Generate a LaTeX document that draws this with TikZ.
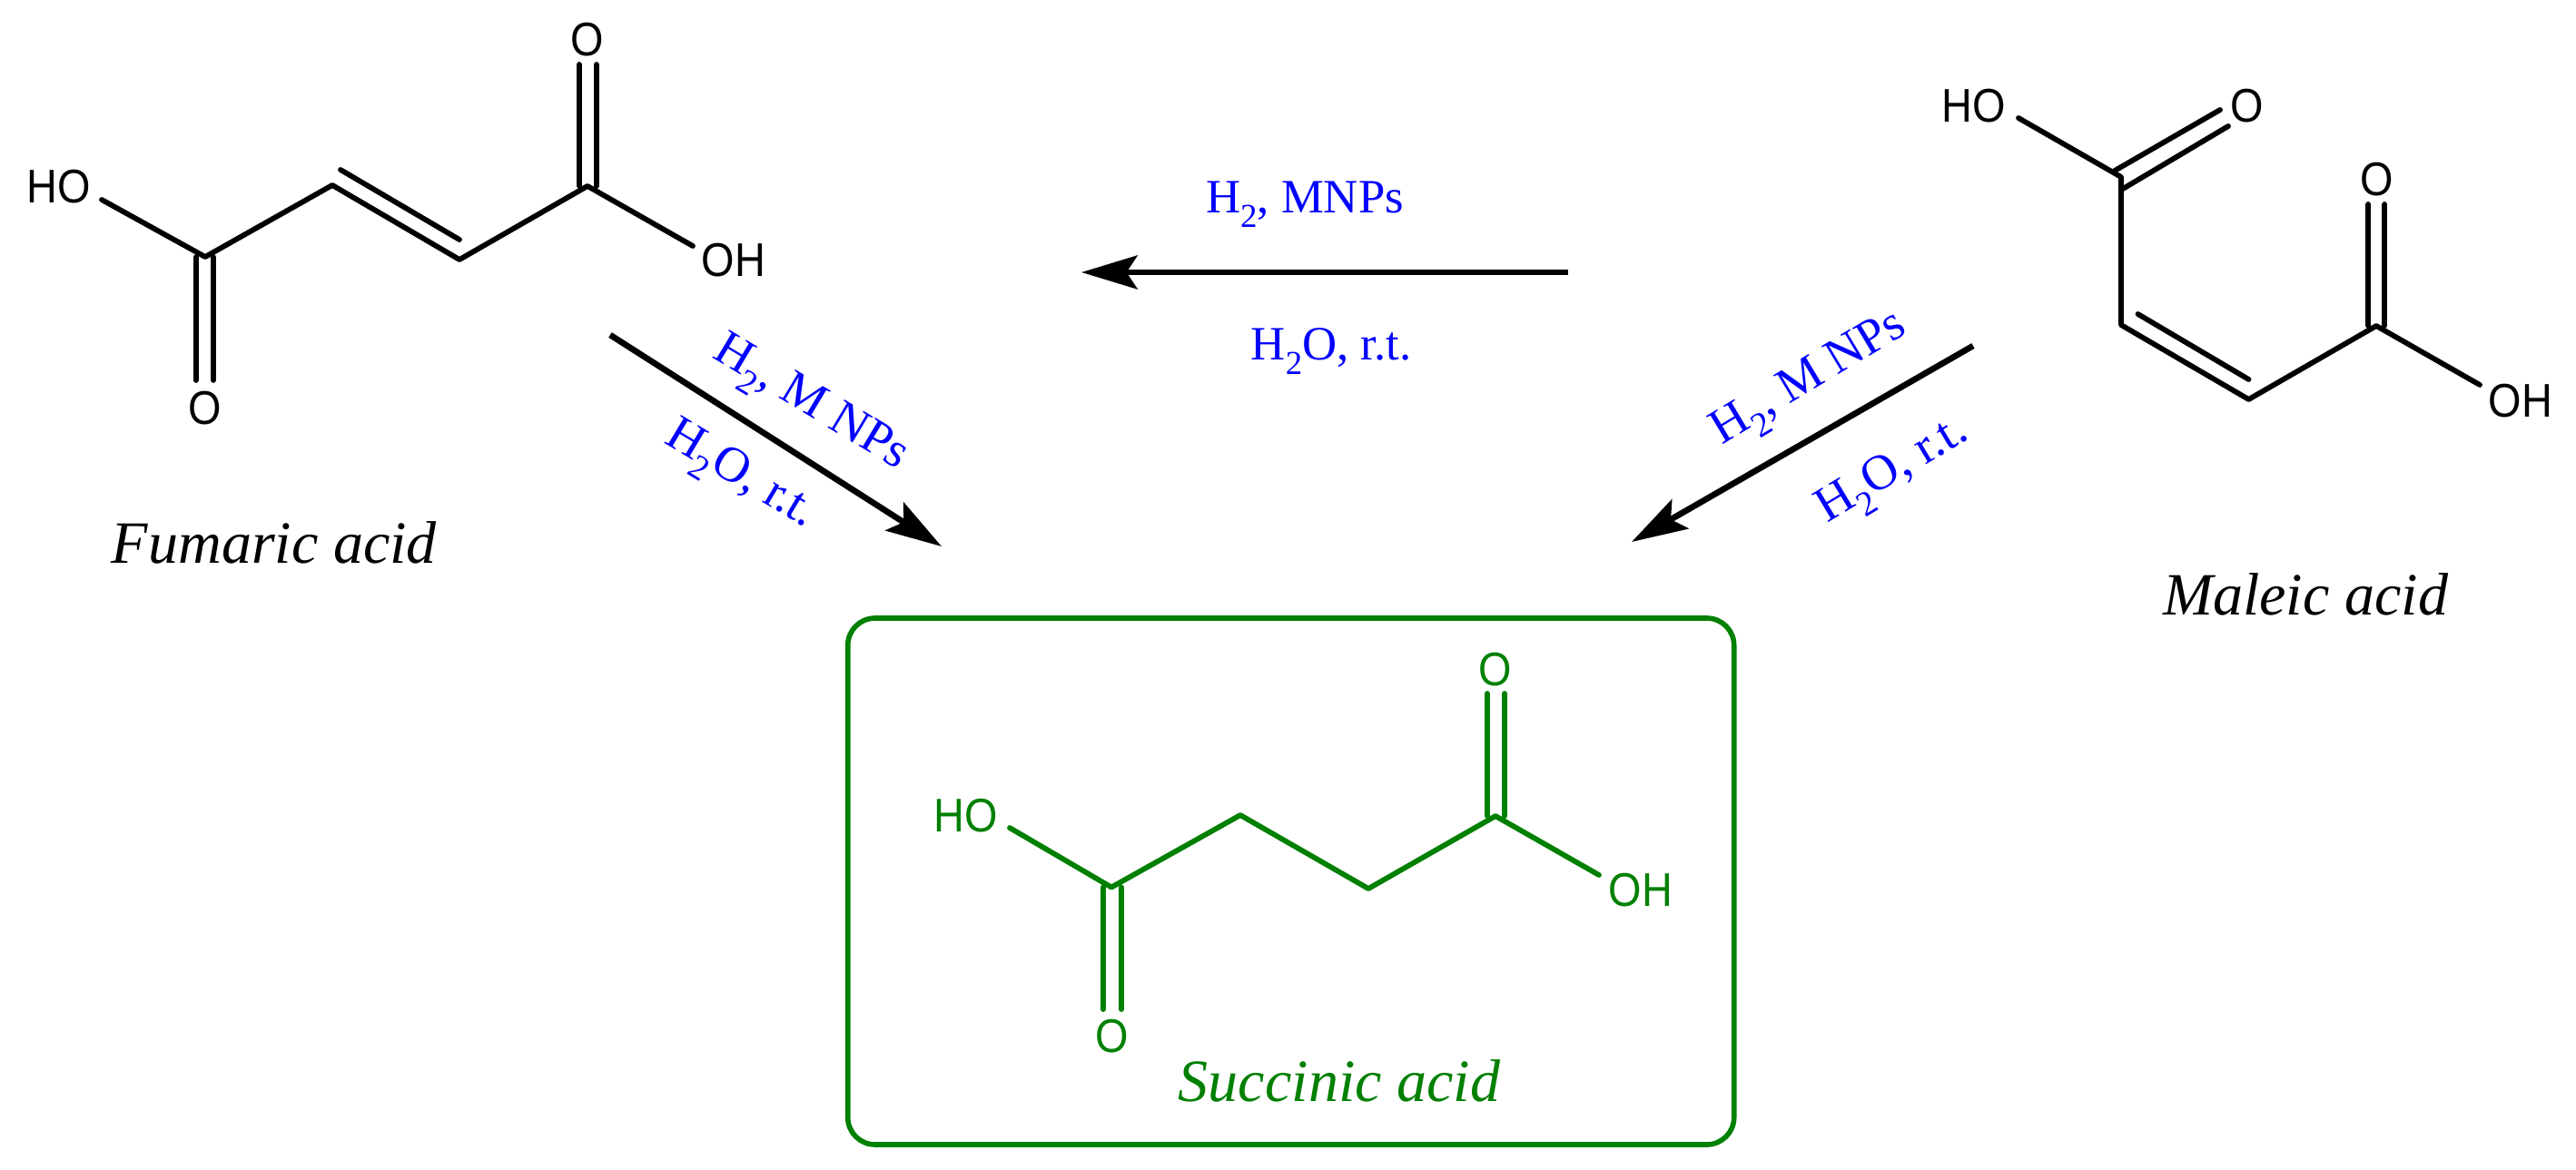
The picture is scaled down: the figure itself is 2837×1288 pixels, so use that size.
\documentclass[tikz,border=0pt]{standalone}
\usepackage{fontspec}
\setmainfont{Liberation Serif}
\newfontfamily\atomfont[FakeStretch=0.9]{Liberation Sans}
\usetikzlibrary{arrows.meta}
\definecolor{molgreen}{RGB}{0,128,0}
\definecolor{reagblue}{RGB}{0,0,255}
\newcommand{\sbs}[1]{\raisebox{-0.3em}{\fontsize{0.7em}{1em}\selectfont #1}}
\tikzset{
  bond/.style={line width=1.65pt,line cap=round,line join=round},
  atom/.style={font=\atomfont\fontsize{14.8pt}{16pt}\selectfont,inner sep=0pt},
  molname/.style={font=\itshape\fontsize{18.8pt}{22pt}\selectfont,inner sep=0pt},
  reagent/.style={font=\fontsize{15pt}{18pt}\selectfont,text=reagblue,inner sep=0pt},
  reagentbig/.style={font=\fontsize{15.6pt}{18pt}\selectfont,text=reagblue,inner sep=0pt},
  reaction/.style={line width=1.9pt,-{Stealth[length=17.5pt,width=10.5pt,inset=3.4pt]}}
}
\begin{document}
\begin{tikzpicture}[x=0.01cm,y=-0.01cm]
\useasboundingbox (0,0) rectangle (2837,1288);
% Fumaric acid
\coordinate (f1) at (226,283);
\coordinate (f2) at (366,204);
\coordinate (f3) at (506,286);
\coordinate (f4) at (647,205);
\coordinate (fho) at (112,220);
\coordinate (foh) at (763,271);
\coordinate (fa1) at (216,283); \coordinate (fa2) at (216,419);
\coordinate (fb1) at (235,283); \coordinate (fb2) at (235,419);
\coordinate (fc1) at (638,205); \coordinate (fc2) at (638,71);
\coordinate (fd1) at (657,205); \coordinate (fd2) at (657,71);
\coordinate (fe1) at (375,187); \coordinate (fe2) at (506,264);
\node[atom] (fHO) at (65,206) {HO};
\node[atom] (fOH) at (808,287) {OH};
\node[atom] (fOt) at (647,44) {O};
\node[atom] (fOb) at (226,450) {O};
\draw[bond] (fho) -- (f1) -- (f2) -- (f3) -- (f4) -- (foh);
\draw[bond] (fa1) -- (fa2) (fb1) -- (fb2) (fc1) -- (fc2) (fd1) -- (fd2) (fe1) -- (fe2);
\node[molname] (fname) at (302,598) {Fumaric acid};
% Maleic acid
\coordinate (m1) at (2336,195);
\coordinate (m2) at (2336,358);
\coordinate (m3) at (2476.5,440);
\coordinate (m4) at (2617,359);
\coordinate (mho) at (2223,130);
\coordinate (moh) at (2731,424);
\coordinate (ma1) at (2329,188); \coordinate (ma2) at (2445,121);
\coordinate (mb1) at (2338,208); \coordinate (mb2) at (2454,139);
\coordinate (mc1) at (2608,359); \coordinate (mc2) at (2608,225);
\coordinate (md1) at (2626,359); \coordinate (md2) at (2626,225);
\coordinate (me1) at (2354.5,346); \coordinate (me2) at (2476.5,418);
\node[atom] (mHO) at (2174,117) {HO};
\node[atom] (mOa) at (2475,117) {O};
\node[atom] (mOb) at (2618,198) {O};
\node[atom] (mOH) at (2776,442) {OH};
\draw[bond] (mho) -- (m1) -- (m2) -- (m3) -- (m4) -- (moh);
\draw[bond] (ma1) -- (ma2) (mb1) -- (mb2) (mc1) -- (mc2) (md1) -- (md2) (me1) -- (me2);
\node[molname] (mname) at (2539,655) {Maleic acid};
% Succinic acid
\node[draw=molgreen,line width=1.6pt,rounded corners=30*0.01cm,minimum width=976*0.01cm,minimum height=580*0.01cm,inner sep=0pt] (box) at (1421.7,971) {};
\begin{scope}[draw=molgreen,text=molgreen,color=molgreen]
\coordinate (s1) at (1224,977.5);
\coordinate (s2) at (1366,898);
\coordinate (s3) at (1507,979);
\coordinate (s4) at (1647,899);
\coordinate (sho) at (1112,912);
\coordinate (soh) at (1761,964);
\coordinate (sa1) at (1215,977.5); \coordinate (sa2) at (1215,1112);
\coordinate (sb1) at (1235,977.5); \coordinate (sb2) at (1235,1112);
\coordinate (sc1) at (1638,899); \coordinate (sc2) at (1638,764);
\coordinate (sd1) at (1657,899); \coordinate (sd2) at (1657,764);
\node[atom] (sHO) at (1064,899) {HO};
\node[atom] (sOH) at (1807,981) {OH};
\node[atom] (sOt) at (1647,738) {O};
\node[atom] (sOb) at (1225,1142) {O};
\draw[bond] (sho) -- (s1) -- (s2) -- (s3) -- (s4) -- (soh);
\draw[bond] (sa1) -- (sa2) (sb1) -- (sb2) (sc1) -- (sc2) (sd1) -- (sd2);
\node[molname] (sname) at (1475,1191) {Succinic acid};
\end{scope}
% Reaction arrows
\coordinate (r1s) at (1727,300); \coordinate (r1e) at (1191,300);
\coordinate (r2s) at (672,369); \coordinate (r2e) at (1037,602);
\coordinate (r3s) at (2173,381); \coordinate (r3e) at (1797,597);
\draw[reaction] (r1s) -- (r1e);
\draw[reaction] (r2s) -- (r2e);
\draw[reaction] (r3s) -- (r3e);
\node[reagent] (l1a) at (1437,225) {H\sbs{2}, MNPs};
\node[reagent] (l1b) at (1466,387) {H\sbs{2}O, r.t.};
\node[reagentbig,rotate=-31] (l2a) at (891,447) {H\sbs{2}, M NPs};
\node[reagentbig,rotate=-31] (l2b) at (814,526) {H\sbs{2}O, r.t.};
\node[reagentbig,rotate=31] (l3a) at (1994,420) {H\sbs{2}, M NPs};
\node[reagentbig,rotate=31] (l3b) at (2086,521) {H\sbs{2}O, r.t.};
\end{tikzpicture}
\end{document}
